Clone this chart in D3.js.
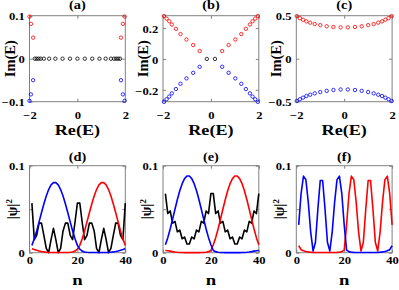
<!DOCTYPE html>
<html>
<head>
<meta charset="utf-8">
<script src="https://cdn.jsdelivr.net/npm/d3@7"></script>
<style>
  body { margin: 0; background: #fff; }
  text { font-family: "Liberation Serif", "Times New Roman", serif; font-weight: bold; fill: #000; }
</style>
</head>
<body>
<script>
// ---- data: eigenvalue spectra (top row) ----
var aBlackRe = [-1.78, -1.7, -1.62, -1.53, -1.4, -1.18, -0.92, -0.62, -0.31, 0, 0.31, 0.62, 0.92, 1.18, 1.4, 1.53, 1.62, 1.7, 1.78];
var aBlackIm = [0, 0, 0, 0, 0, 0, 0, 0, 0, 0, 0, 0, 0, 0, 0, 0, 0, 0, 0];
var aRedRe = [-2, -1.94, -1.85, 1.97, 1.9, 1.82];
var aRedIm = [0.098, 0.081, 0.049, 0.098, 0.081, 0.049];
var aBlueRe = [-1.85, -1.94, -2, 1.82, 1.9, 1.97];
var aBlueIm = [-0.05, -0.083, -0.098, -0.05, -0.083, -0.098];

var bRedRe = [-1.96, -1.85, -1.74, -1.63, -1.46, -1.27, -1.02, -0.74, -0.47, 0.47, 0.74, 1.02, 1.27, 1.46, 1.63, 1.74, 1.85, 1.96];
var bRedIm = [0.278, 0.261, 0.244, 0.223, 0.195, 0.161, 0.126, 0.09, 0.051, 0.051, 0.09, 0.126, 0.161, 0.195, 0.223, 0.244, 0.261, 0.278];
var bBlueRe = [-1.96, -1.85, -1.74, -1.63, -1.46, -1.27, -1.02, -0.74, -0.47, 0.47, 0.74, 1.02, 1.27, 1.46, 1.63, 1.74, 1.85, 1.96];
var bBlueIm = [-0.278, -0.261, -0.244, -0.223, -0.195, -0.161, -0.126, -0.09, -0.051, -0.051, -0.09, -0.126, -0.161, -0.195, -0.223, -0.244, -0.261, -0.278];
var bBlackRe = [-0.17, 0.17];
var bBlackIm = [0, 0];

var cRe = [-1.98, -1.85, -1.72, -1.58, -1.42, -1.23, -1.0, -0.73, -0.45, -0.15, 0.15, 0.45, 0.73, 1.0, 1.23, 1.42, 1.58, 1.72, 1.85, 1.98];
var cRedIm = [0.496, 0.471, 0.453, 0.434, 0.419, 0.403, 0.39, 0.377, 0.369, 0.364, 0.364, 0.369, 0.377, 0.39, 0.403, 0.419, 0.434, 0.453, 0.471, 0.496];
var cBlueIm = [-0.492, -0.471, -0.453, -0.434, -0.419, -0.403, -0.388, -0.374, -0.364, -0.358, -0.358, -0.364, -0.374, -0.388, -0.403, -0.419, -0.434, -0.453, -0.471, -0.492];

// ---- data: |psi|^2 profiles (bottom row) ----
var sites = [1, 2, 3, 4, 5, 6, 7, 8, 9, 10, 11, 12, 13, 14, 15, 16, 17, 18, 19, 20,
             21, 22, 23, 24, 25, 26, 27, 28, 29, 30, 31, 32, 33, 34, 35, 36, 37, 38, 39, 40];

var dBlue = [0.0084, 0.016, 0.025, 0.0354, 0.046, 0.056, 0.0652, 0.0726, 0.0779, 0.0806, 0.0806, 0.0779, 0.0726, 0.0652, 0.056, 0.046, 0.0354, 0.025, 0.016, 0.0084,
             0.004, 0.0018, 0.0009, 0.0005, 0.0003, 0.0002, 0.0002, 0.0002, 0.0002, 0.0002, 0.0002, 0.0003, 0.0004, 0.0006, 0.0009, 0.0013, 0.0019, 0.0027, 0.0036, 0.0046];
var dRed = [0.0046, 0.0036, 0.0027, 0.0019, 0.0013, 0.0009, 0.0006, 0.0004, 0.0003, 0.0002, 0.0002, 0.0002, 0.0002, 0.0002, 0.0002, 0.0003, 0.0005, 0.0009, 0.0018, 0.004,
            0.0084, 0.016, 0.025, 0.0354, 0.046, 0.056, 0.0652, 0.0726, 0.0779, 0.0806, 0.0806, 0.0779, 0.0726, 0.0652, 0.056, 0.046, 0.0354, 0.025, 0.016, 0.0084];
var dBlack = [0.057, 0.015, 0.02, 0.034, 0.034, 0.02, 0.005, 0.0, 0.015, 0.028, 0.015, 0.0, 0.005, 0.025, 0.034, 0.034, 0.02, 0.015, 0.035, 0.057,
              0.057, 0.035, 0.015, 0.02, 0.034, 0.034, 0.025, 0.005, 0.0, 0.015, 0.028, 0.015, 0.0, 0.005, 0.02, 0.034, 0.034, 0.02, 0.015, 0.057];

var eBlue = [0.0091, 0.0173, 0.0273, 0.0385, 0.05, 0.0612, 0.0712, 0.0793, 0.0851, 0.0881, 0.0881, 0.0851, 0.0793, 0.0712, 0.0612, 0.05, 0.0385, 0.0273, 0.0173, 0.0091,
             0.0025, 0.0012, 0.0006, 0.0003, 0.0002, 0.0001, 0.0001, 0.0001, 0.0001, 0.0001, 0.0001, 0.0001, 0.0002, 0.0003, 0.0005, 0.0008, 0.0012, 0.0018, 0.0022, 0.0026];
var eRed = [0.0026, 0.0022, 0.0018, 0.0012, 0.0008, 0.0005, 0.0003, 0.0002, 0.0001, 0.0001, 0.0001, 0.0001, 0.0001, 0.0001, 0.0001, 0.0002, 0.0003, 0.0006, 0.0012, 0.0025,
            0.0091, 0.0173, 0.0273, 0.0385, 0.05, 0.0612, 0.0712, 0.0793, 0.0851, 0.0881, 0.0881, 0.0851, 0.0793, 0.0712, 0.0612, 0.05, 0.0385, 0.0273, 0.0173, 0.0091];
var eBlack = [0.068, 0.045, 0.048, 0.034, 0.036, 0.024, 0.026, 0.016, 0.018, 0.01, 0.01, 0.018, 0.016, 0.026, 0.024, 0.036, 0.034, 0.048, 0.045, 0.068,
              0.068, 0.045, 0.048, 0.034, 0.036, 0.024, 0.026, 0.016, 0.018, 0.01, 0.01, 0.018, 0.016, 0.026, 0.024, 0.036, 0.034, 0.048, 0.045, 0.068];

var fBlue = [0.032, 0.068, 0.088, 0.084, 0.058, 0.024, 0.002, 0.012, 0.05, 0.083, 0.083, 0.05, 0.012, 0.002, 0.024, 0.058, 0.084, 0.088, 0.068, 0.032,
             0.003, 0.0012, 0.0006, 0.0004, 0.0003, 0.0002, 0.0002, 0.0002, 0.0002, 0.0002, 0.0002, 0.0002, 0.0003, 0.0004, 0.0006, 0.0009, 0.0014, 0.0022, 0.0035, 0.008];
var fRed = [0.008, 0.0035, 0.0022, 0.0014, 0.0009, 0.0006, 0.0004, 0.0003, 0.0002, 0.0002, 0.0002, 0.0002, 0.0002, 0.0002, 0.0002, 0.0003, 0.0004, 0.0006, 0.0012, 0.003,
            0.032, 0.068, 0.088, 0.084, 0.058, 0.024, 0.002, 0.012, 0.05, 0.083, 0.083, 0.05, 0.012, 0.002, 0.024, 0.058, 0.084, 0.088, 0.068, 0.032];

// ---- tick labels ----
var reTicks = [-2, 0, 2];
var aImTicks = [-0.1, 0, 0.1];
var bImTicks = [-0.2, 0, 0.2];
var cImTicks = [-0.5, 0, 0.5];
var nTicks = [0, 20, 40];
var psiTicks = [0, 0.05, 0.1];
var psiTickLabels = ["0", "", "0.1"];

var W = 399, H = 290;
var SX = 1.25;           // text in the original is a bit wide
var axisCol = "#808080";

var svg = d3.select("body").append("svg")
  .attr("width", W)
  .attr("height", H);

function zip(xs, ys) {
  return xs.map(function(v, i) { return [v, ys[i]]; });
}

function panel(o) {
  var w = o.w, h = o.h;
  var g = svg.append("g")
    .attr("transform", "translate(" + o.left + "," + o.top + ")");

  var x = d3.scaleLinear().domain(o.xd).range([0, w]);
  var y = d3.scaleLinear().domain(o.yd).range([h, 0]);

  // box
  g.append("rect")
    .attr("width", w).attr("height", h)
    .attr("fill", "none").attr("stroke", axisCol).attr("stroke-width", 1);

  // axes (ticks point inward)
  var xa = g.append("g").attr("transform", "translate(0," + h + ")")
    .call(d3.axisBottom(x).tickValues(o.xt).tickSizeInner(-3).tickSizeOuter(0)
      .tickPadding(o.xpad).tickFormat(d3.format("")));
  var ya = g.append("g")
    .call(d3.axisLeft(y).tickValues(o.yt).tickSizeInner(-3).tickSizeOuter(0)
      .tickPadding(4).tickFormat(function(d, i) { return o.ytl ? o.ytl[i] : d3.format("")(d); }));
  g.append("g")
    .call(d3.axisTop(x).tickValues(o.xt).tickSizeInner(-3).tickSizeOuter(0).tickFormat(""));
  g.append("g").attr("transform", "translate(" + w + ",0)")
    .call(d3.axisRight(y).tickValues(o.yt).tickSizeInner(-3).tickSizeOuter(0).tickFormat(""));

  g.selectAll(".domain").remove();
  g.selectAll(".tick line").attr("stroke", axisCol);
  g.selectAll(".tick text")
    .attr("font-size", 10.5)
    .attr("font-family", null)
    .attr("fill", "#000");
  xa.selectAll(".tick text").attr("transform", "scale(1.2,1)");
  ya.selectAll(".tick text").attr("transform", "scale(1.2,1)").attr("dy", "0.4em");

  // title
  g.append("text")
    .attr("transform", "translate(" + (w / 2) + "," + o.titleY + ") scale(" + SX + ",1)")
    .attr("text-anchor", "middle")
    .attr("font-size", 11.5)
    .text(o.title);

  // x label
  g.append("text")
    .attr("transform", "translate(" + (w / 2) + "," + (h + o.xlabY) + ") scale(" + SX + ",1)")
    .attr("text-anchor", "middle")
    .attr("font-size", o.xlabSize)
    .text(o.xlab);

  // y label
  var yl = g.append("text")
    .attr("transform", "translate(" + (-o.ylabX) + "," + (h / 2) + ") rotate(-90)")
    .attr("text-anchor", "middle")
    .attr("dy", "0.35em")
    .attr("font-size", o.ylabSize);
  if (o.psi) {
    yl.attr("font-weight", "normal");
    yl.append("tspan").text("|\u03C8|");
    yl.append("tspan").attr("font-size", 9).attr("dy", "-0.6em").text("2");
  } else {
    yl.text(o.ylab);
  }

  var plot = g.append("g");
  return { g: plot, x: x, y: y };
}

function scatter(p, pts, color) {
  p.g.selectAll(null)
    .data(pts)
    .enter().append("circle")
    .attr("cx", function(d) { return p.x(d[0]); })
    .attr("cy", function(d) { return p.y(d[1]); })
    .attr("r", 1.7)
    .attr("fill", "none")
    .attr("stroke", color)
    .attr("stroke-width", 0.8);
}

function curve(p, ys, color) {
  var line = d3.line()
    .x(function(d, i) { return p.x(sites[i]); })
    .y(function(d) { return p.y(d); });
  p.g.append("path")
    .datum(ys)
    .attr("d", line)
    .attr("fill", "none")
    .attr("stroke", color)
    .attr("stroke-width", 1.6)
    .attr("stroke-linejoin", "round");
}

var lefts = [29.5, 163, 296.3];
var pw = 95.8;

// top row
var topOpt = { top: 15.7, w: pw, h: 86, xd: [-2, 2], xt: reTicks, xpad: 10,
  titleY: -6.5, xlab: "Re(E)", xlabY: 33, xlabSize: 14.5, ylab: "Im(E)", ylabX: 20, ylabSize: 14.5 };

var pa = panel(Object.assign({}, topOpt, { left: lefts[0], yd: [-0.1, 0.1], yt: aImTicks, title: "(a)" }));
scatter(pa, zip(aRedRe, aRedIm), "#ff0000");
scatter(pa, zip(aBlueRe, aBlueIm), "#0000ff");
scatter(pa, zip(aBlackRe, aBlackIm), "#000000");

var pb = panel(Object.assign({}, topOpt, { left: lefts[1], yd: [-0.277, 0.28], yt: bImTicks, title: "(b)" }));
scatter(pb, zip(bRedRe, bRedIm), "#ff0000");
scatter(pb, zip(bBlueRe, bBlueIm), "#0000ff");
scatter(pb, zip(bBlackRe, bBlackIm), "#000000");

var pc = panel(Object.assign({}, topOpt, { left: lefts[2], yd: [-0.5, 0.5], yt: cImTicks, title: "(c)" }));
scatter(pc, zip(cRe, cRedIm), "#ff0000");
scatter(pc, zip(cRe, cBlueIm), "#0000ff");

// bottom row
var botOpt = { top: 165.7, w: pw, h: 87, xd: [0, 40], xt: nTicks, xpad: 4,
  yd: [0, 0.1], yt: psiTicks, ytl: psiTickLabels,
  titleY: -4.7, xlab: "n", xlabY: 32, xlabSize: 15, ylabX: 17, ylabSize: 14, psi: true };

var pd = panel(Object.assign({}, botOpt, { left: lefts[0], title: "(d)" }));
curve(pd, dBlack, "#000000");
curve(pd, dRed, "#ff0000");
curve(pd, dBlue, "#0000ff");

var pe = panel(Object.assign({}, botOpt, { left: lefts[1], title: "(e)" }));
curve(pe, eBlack, "#000000");
curve(pe, eRed, "#ff0000");
curve(pe, eBlue, "#0000ff");

var pf = panel(Object.assign({}, botOpt, { left: lefts[2], title: "(f)" }));
curve(pf, fRed, "#ff0000");
curve(pf, fBlue, "#0000ff");
</script>
</body>
</html>
